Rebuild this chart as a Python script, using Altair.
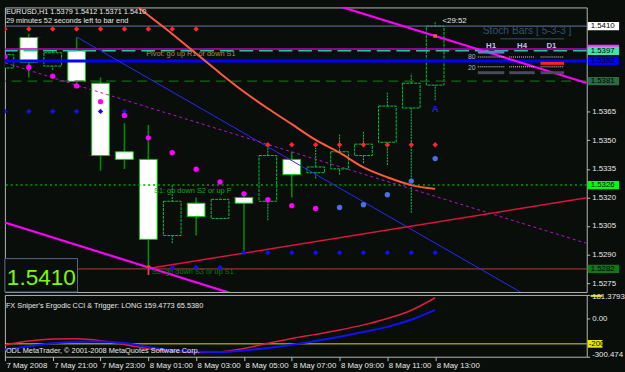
import altair as alt
import pandas as pd

# ---------------- data ----------------
bar_index = list(range(19))
bar_labels = ["7 May 19:00", "7 May 20:00", "7 May 21:00", "7 May 22:00", "7 May 23:00",
              "8 May 00:00", "8 May 01:00", "8 May 02:00", "8 May 03:00", "8 May 04:00",
              "8 May 05:00", "8 May 06:00", "8 May 07:00", "8 May 08:00", "8 May 09:00",
              "8 May 10:00", "8 May 11:00", "8 May 12:00", "8 May 13:00"]
opens = [1.5388, 1.5404, 1.5389, 1.5397, 1.5380, 1.5344, 1.5340, 1.5300, 1.5317, 1.5309,
         1.5320, 1.5318, 1.5340, 1.5333, 1.5335, 1.5342, 1.5349, 1.5367, 1.5379]
highs = [1.5397, 1.5406, 1.5397, 1.5404, 1.5383, 1.5359, 1.5358, 1.5327, 1.5320, 1.5320,
         1.5322, 1.5348, 1.5344, 1.5346, 1.5353, 1.5355, 1.5375, 1.5385, 1.5412]
lows = [1.5386, 1.5383, 1.5387, 1.5380, 1.5334, 1.5335, 1.5283, 1.5296, 1.5300, 1.5309,
        1.5292, 1.5308, 1.5320, 1.5330, 1.5332, 1.5338, 1.5337, 1.5312, 1.5371]
closes = [1.5395, 1.5391, 1.5396, 1.5381, 1.5342, 1.5340, 1.5298, 1.5318, 1.5310, 1.5319,
          1.5317, 1.5342, 1.5332, 1.5336, 1.5344, 1.5348, 1.5368, 1.5380, 1.5410]

x_tick_pos = [0, 2, 4, 6, 8, 10, 12, 14, 16, 18]
x_tick_labels = ["7 May 2008", "7 May 21:00", "7 May 23:00", "8 May 01:00", "8 May 03:00",
                 "8 May 05:00", "8 May 07:00", "8 May 09:00", "8 May 11:00", "8 May 13:00"]
price_ticks = [1.5275, 1.5290, 1.5305, 1.5320, 1.5335, 1.5350, 1.5365]

# trailing-stop style dots
sar_down_idx = [0, 1, 2, 3, 4, 5, 6, 7, 8, 9, 10, 11, 12, 13]
sar_down = [1.53940, 1.53884, 1.53837, 1.53786, 1.53703, 1.53631, 1.53513, 1.53435,
            1.53348, 1.53281, 1.53219, 1.53188, 1.53157, 1.53142]
sar_up_idx = [14, 15, 16, 17, 18]
sar_up = [1.53147, 1.53162, 1.53214, 1.53286, 1.53404]

red_dot_idx = [0, 1, 2, 3, 4, 5, 6, 7, 8, 11, 12, 13, 14, 15, 16, 17, 18]
red_dot = [1.54085, 1.54085, 1.54085, 1.54085, 1.54085, 1.54085, 1.54085, 1.54085, 1.54085,
           1.53477, 1.53477, 1.53477, 1.53477, 1.53477, 1.53477, 1.53477, 1.53477]
blue_dot_idx = [0, 1, 2, 3, 4, 5, 6, 7, 8, 9, 10, 11, 12, 13, 14, 15, 16, 17, 18]
blue_dot = [1.53652, 1.53652, 1.53652, 1.53652, 1.53652, 1.53652,
            1.52832, 1.52832, 1.52832, 1.52832,
            1.52910, 1.52910, 1.52910, 1.52910, 1.52910, 1.52910, 1.52910, 1.52910, 1.52910]

curve_idx = [5, 6, 7, 8, 9, 10, 11, 12, 13, 14, 15, 16, 17, 18]
curve = [1.54260, 1.54157, 1.54059, 1.53956, 1.53853, 1.53755, 1.53667, 1.53585,
         1.53502, 1.53435, 1.53358, 1.53306, 1.53265, 1.53245]

trend_blue_idx = [3, 24.34]
trend_blue = [1.54043, 1.52503]
trend_dotted_idx = [0, 24.34]
trend_dotted = [1.53907, 1.52959]
trend_red_idx = [6, 24.34]
trend_red = [1.52827, 1.53198]
chan_up_idx = [10, 24.34]
chan_up = [1.54359, 1.53801]
chan_lo_idx = [0, 12]
chan_lo = [1.53069, 1.52597]

level_prices = [1.5410, 1.5398, 1.5397, 1.53917, 1.53811, 1.53265, 1.52825]
tag_prices = [1.5410, 1.5398, 1.5397, 1.53917, 1.53811, 1.53265, 1.52825]
tag_labels = ["1.5410", "1.5398", "1.5397", "1.5392", "1.5381", "1.5326", "1.5282"]

signal_up_idx = [6]
signal_up = [1.52812]
signal_buy_idx = [18]
signal_buy = [1.53662]
tick_mark_idx = [18]
tick_mark = [1.54048]

ergodic = [-209, -178, -163, -160, -175, -205, -238, -258, -268, -262,
           -236, -196, -158, -126, -92, -52, -2, 62, 159.4773]
trigger = [-244, -219, -196, -183, -181, -194, -224, -250, -262, -263,
           -252, -232, -207, -178, -145, -108, -68, -12, 65.538]
sub_level = [-200]
sub_ticks = [181.3793, 0.0, -300.474]
sub_tick_labels = ["181.3793", "0.00", "-300.474"]

title_line1 = "EURUSD,H1  1.5379 1.5412 1.5371 1.5410"
title_line2 = "29 minutes 52 seconds left to bar end"
timer_text = "<29:52"
pivot_text = "Pivot: go up R1 or down S1"
s1_text = "S1: go down S2 or up P"
s2_text = "S2: go down S3 or up S1"
stoch_title = "Stoch Bars [ 5-3-3 ]"
stoch_cols = ["H1", "H4", "D1"]
stoch_levels = ["80", "20"]
big_price = "1.5410"
sub_title = "FX Sniper's Ergodic CCI & Trigger: LONG 159.4773 65.5380"
copyright_text = "ODL MetaTrader, \u00a9 2001-2008 MetaQuotes Software Corp."
sub_tag = "-200"

# ---------------- styling ----------------
BG = "#0a0e0b"
FONT = "Liberation Sans"
W, H, HS = 593, 290, 63
X_MAX = 24.34
P_MIN, P_MAX = 1.527036, 1.541979
S_MIN, S_MAX = -300.474, 181.3793

xs = alt.Scale(domain=[0, X_MAX], nice=False, zero=False)
ys = alt.Scale(domain=[P_MIN, P_MAX], nice=False, zero=False)
ss = alt.Scale(domain=[S_MIN, S_MAX], nice=False, zero=False)

price_axis = alt.Axis(orient="right", values=price_ticks, format=".4f", tickSize=3,
                      tickColor="#c0c0c0", labelColor="#e8e8e8", labelFontSize=8,
                      labelFont=FONT, labelPadding=2, domain=False, grid=False, title=None,
                      labelOverlap=False)
sub_axis = alt.Axis(orient="right", values=sub_ticks, tickSize=3, tickColor="#c0c0c0",
                    labelColor="#e8e8e8", labelFontSize=8, labelFont=FONT, labelPadding=2,
                    labelFlush=True, labelFlushOffset=2, domain=False, grid=False, title=None,
                    labelOverlap=False,
                    labelExpr="datum.value > 100 ? '%s' : (datum.value < -250 ? '%s' : '%s')"
                    % (sub_tick_labels[0], sub_tick_labels[2], sub_tick_labels[1]))
x_expr = "[" + ",".join("'%s'" % s for s in x_tick_labels) + "][round(datum.value/2)]"
x_axis = alt.Axis(values=x_tick_pos, labelExpr=x_expr, tickSize=4, tickColor="#c0c0c0",
                  labelColor="#e8e8e8", labelFontSize=8, labelFont=FONT, labelAlign="left",
                  labelBaseline="top", labelPadding=1, labelOffset=1, labelOverlap=False,
                  labelFlush=False, domain=False, grid=False, title=None)


def X(f):
    return alt.X(f, type="quantitative", scale=xs, axis=None, title=None)


def XS(f):
    return alt.X(f, type="quantitative", scale=xs, axis=x_axis, title=None)


def Y(f):
    return alt.Y(f, type="quantitative", scale=ys, axis=price_axis, title=None)


def S(f):
    return alt.Y(f, type="quantitative", scale=ss, axis=sub_axis, title=None)


def one():
    return alt.Chart(pd.DataFrame({"a": [0]}))


def txt(s, x, y, size=7.5, color="#e0e0e0", align="left", weight="normal", font=FONT):
    return alt.Chart(pd.DataFrame({"t": [s]})).mark_text(
        align=align, baseline="middle", fontSize=size, color=color, font=font,
        fontWeight=weight).encode(x=alt.value(x), y=alt.value(y), text="t:N")


def prect(x, x2, y, y2, color):
    return one().mark_rect(color=color).encode(
        x=alt.value(x), x2=alt.value(x2), y=alt.value(y), y2=alt.value(y2))


def prule(x, x2, y, color, width=1, dash=None):
    kw = dict(color=color, strokeWidth=width)
    if dash:
        kw["strokeDash"] = dash
    return one().mark_rule(**kw).encode(x=alt.value(x), x2=alt.value(x2), y=alt.value(y))


def xyline(idx, vals, color, width=1, dash=None, interp="linear"):
    kw = dict(color=color, strokeWidth=width, clip=True, interpolate=interp)
    if dash:
        kw["strokeDash"] = dash
    return alt.Chart(pd.DataFrame({"i": idx, "p": vals})).mark_line(**kw).encode(
        x=X("i"), y=Y("p"), order="i:Q")


def dots(idx, vals, color, shape="circle", size=30):
    return alt.Chart(pd.DataFrame({"i": idx, "p": vals})).mark_point(
        shape=shape, filled=True, color=color, size=size, opacity=1, clip=True).encode(
        x=X("i"), y=Y("p"))


def hline(p, color, width=1, dash=None):
    kw = dict(color=color, strokeWidth=width)
    if dash:
        kw["strokeDash"] = dash
    return alt.Chart(pd.DataFrame({"p": [p]})).mark_rule(**kw).encode(y=Y("p"))


# ---------------- main panel ----------------
cdf = pd.DataFrame({"i": bar_index, "t": bar_labels, "o": opens, "h": highs, "l": lows, "c": closes})
cbase = alt.Chart(cdf).transform_calculate(
    bull="datum.c >= datum.o", x0="datum.i - 0.37", x1="datum.i + 0.37")

wick_bear = cbase.transform_filter("!datum.bull").mark_rule(
    clip=True, color="#008a00", strokeWidth=1.6).encode(
    x=X("i"), y=Y("l"), y2=alt.Y2("h:Q"))
wick_bull = cbase.transform_filter("datum.bull").mark_rule(
    clip=True, color="#10c860", strokeWidth=1, strokeDash=[2, 1]).encode(
    x=X("i"), y=Y("l"), y2=alt.Y2("h:Q"))
body_bear = cbase.transform_filter("!datum.bull").mark_rect(
    clip=True, fill="#ffffff", stroke="#00d000", strokeWidth=1).encode(
    x=X("x0"), x2=alt.X2("x1:Q"), y=Y("o"), y2=alt.Y2("c:Q"))
body_bull = cbase.transform_filter("datum.bull").mark_rect(
    clip=True, fill=BG, stroke="#00c838", strokeWidth=1, strokeDash=[3, 1]).encode(
    x=X("x0"), x2=alt.X2("x1:Q"), y=Y("o"), y2=alt.Y2("c:Q"))

levels = [
    hline(level_prices[0], "#6a78a6", 1),
    hline(level_prices[1], "#c000c0", 1.5),
    hline(level_prices[2], "#22c8a0", 1.5, [14, 6]),
    hline(level_prices[3], "#0000ff", 3),
    hline(level_prices[4], "#0b6a14", 1.2, [10, 6]),
    hline(level_prices[5], "#00a000", 1.5, [2, 3]),
    hline(level_prices[6], "#b02030", 1.5),
    hline(level_prices[6], "#106010", 1, [2, 3]),
]

trends = [
    xyline(trend_blue_idx, trend_blue, "#2a2aff", 1),
    xyline(trend_dotted_idx, trend_dotted, "#c010d0", 1, [3, 3]),
    xyline(trend_red_idx, trend_red, "#dc143c", 1.5),
    xyline(chan_up_idx, chan_up, "#ff00ff", 2.2),
    xyline(chan_lo_idx, chan_lo, "#ff00ff", 2.2),
    xyline(curve_idx, curve, "#ff5a3c", 2, interp="monotone"),
]

markers = [
    dots(red_dot_idx, red_dot, "#ff2828", "diamond", 30),
    dots(blue_dot_idx, blue_dot, "#1010ff", "diamond", 30),
    dots(sar_down_idx, sar_down, "#ff00ff", "circle", 30),
    dots(sar_up_idx, sar_up, "#4a6ee6", "circle", 30),
    dots(tick_mark_idx, tick_mark, "#ff5a3c", "square", 14),
    alt.Chart(pd.DataFrame({"i": signal_up_idx, "p": signal_up, "t": ["\u2191"]})).mark_text(
        color="#ff3a2a", fontSize=14, fontWeight="bold", font="DejaVu Sans", baseline="middle").encode(
        x=X("i"), y=Y("p"), text="t:N"),
    alt.Chart(pd.DataFrame({"i": signal_buy_idx, "p": signal_buy, "t": ["A"]})).mark_text(
        color="#1a1aff", fontSize=10, fontWeight="bold", font=FONT, baseline="middle").encode(
        x=X("i"), y=Y("p"), text="t:N"),
]

texts = [
    txt(title_line1, 1, 4.5, 7.5, "#e8e8e8"),
    txt(title_line2, 1, 13.5, 7.5, "#e8e8e8"),
    txt(timer_text, 446, 13.5, 8, "#e8e8e8"),
    txt(pivot_text, 144, 47.5, 7.5, "#b08a3a"),
    txt(s1_text, 152, 187, 7.5, "#10a818"),
    txt(s2_text, 150, 270, 7.5, "#0a7a10"),
]

stoch = [
    txt(stoch_title, 487, 24, 10.5, "#34506e"),
    prule(505, 570, 32, "#34506e", 1),
    txt(stoch_cols[0], 495.5, 39, 8, "#b8c8e0", "center", "bold"),
    txt(stoch_cols[1], 527, 39, 8, "#b8c8e0", "center", "bold"),
    txt(stoch_cols[2], 557, 39, 8, "#b8c8e0", "center", "bold"),
    prect(482, 509, 44, 47, "#5c80cc"),
    txt(stoch_levels[0], 472, 50.5, 7, "#a8b8d0"),
    txt(stoch_levels[1], 472, 61.5, 7, "#a8b8d0"),
    prule(482, 509, 50.5, "#e0e0e0", 1, [1, 1]),
    prule(514, 540, 50.5, "#e0e0e0", 1, [1, 1]),
    prule(546, 570, 50.5, "#e0e0e0", 1, [1, 1]),
    prule(482, 509, 60.5, "#e0e0e0", 1, [1, 1]),
    prule(514, 540, 60.5, "#e0e0e0", 1, [1, 1]),
    prule(546, 570, 60.5, "#e0e0e0", 1, [1, 1]),
    prect(546, 570, 55.5, 58.5, "#ff2020"),
    prect(482, 509, 65, 68, "#4a4a5a"),
    prect(514, 540, 65, 68, "#4a4a5a"),
    prect(546, 570, 65, 68, "#4a4a5a"),
]

tdf = pd.DataFrame({"p": tag_prices, "lab": tag_labels})
tag_fill = ["#ffffff", "#ff30ff", "#3ce6a8", "#0000ff", "#2e6a44", "#00ff00", "#0e7a14"]
tags_rect = alt.Chart(tdf).transform_calculate(
    top="datum.p + 0.00022", bot="datum.p - 0.00022").mark_rect().encode(
    x=alt.value(594), x2=alt.value(626), y=Y("top"), y2=alt.Y2("bot:Q"),
    color=alt.Color("lab:N", scale=alt.Scale(domain=tag_labels, range=tag_fill), legend=None))
tags_text = alt.Chart(tdf).transform_filter("datum.lab != '1.5398'").mark_text(
    align="left", baseline="middle", fontSize=8, font=FONT, color="#000000").encode(
    x=alt.value(597), y=Y("p"), text="lab:N")

big = [
    one().mark_rect(fill=BG, stroke="#5a6a8a", strokeWidth=1).encode(
        x=alt.value(0), x2=alt.value(74), y=alt.value(256), y2=alt.value(290)),
    alt.Chart(pd.DataFrame({"t": [big_price]})).mark_text(
        align="left", baseline="alphabetic", fontSize=23, font=FONT, color="#7cfc00").encode(
        x=alt.value(2), y=alt.value(283), text="t:N"),
]

main = alt.layer(wick_bear, wick_bull, body_bear, body_bull, *levels, *trends, *markers,
                 *texts, *stoch, tags_rect, tags_text, *big).properties(width=W, height=H)

# ---------------- sub panel ----------------
sdf = pd.DataFrame({"i": bar_index, "e": ergodic, "g": trigger})
sub_yellow = alt.Chart(pd.DataFrame({"v": sub_level})).mark_rule(
    color="#e0e000", strokeWidth=1).encode(y=S("v"))
sub_red = alt.Chart(sdf).mark_line(color="#dc1e3c", strokeWidth=1.5, clip=True,
                                   interpolate="monotone").encode(x=XS("i"), y=S("e"))
sub_blue = alt.Chart(sdf).mark_line(color="#1010ff", strokeWidth=2, clip=True,
                                    interpolate="monotone").encode(x=XS("i"), y=S("g"))
sub_tag_rect = alt.Chart(pd.DataFrame({"v": sub_level})).transform_calculate(
    top="datum.v + 30", bot="datum.v - 30").mark_rect(color="#e8e800").encode(
    x=alt.value(594), x2=alt.value(609), y=S("top"), y2=alt.Y2("bot:Q"))
sub_tag_text = alt.Chart(pd.DataFrame({"v": sub_level, "t": [sub_tag]})).mark_text(
    align="left", baseline="middle", fontSize=8, font=FONT, color="#000000").encode(
    x=alt.value(595), y=S("v"), text="t:N")
sub_top_mark = prect(597, 609, 0, 2, "#e8e800")

sub = alt.layer(sub_yellow, sub_red, sub_blue, sub_tag_rect, sub_tag_text, sub_top_mark,
                txt(sub_title, 1, 11, 7.5, "#e8e8e8"),
                txt(copyright_text, 1, 57.5, 7.5, "#e8e8e8")).properties(width=W, height=HS)

chart = alt.vconcat(main, sub, spacing=3, bounds="flush",
                    padding={"left": 3, "top": 3, "right": 0, "bottom": 0}).configure(
    background=BG, font=FONT).configure_view(stroke="#b8b8b8", strokeWidth=1)

chart.save("out.html", embed_options={"renderer": "svg", "actions": False})
